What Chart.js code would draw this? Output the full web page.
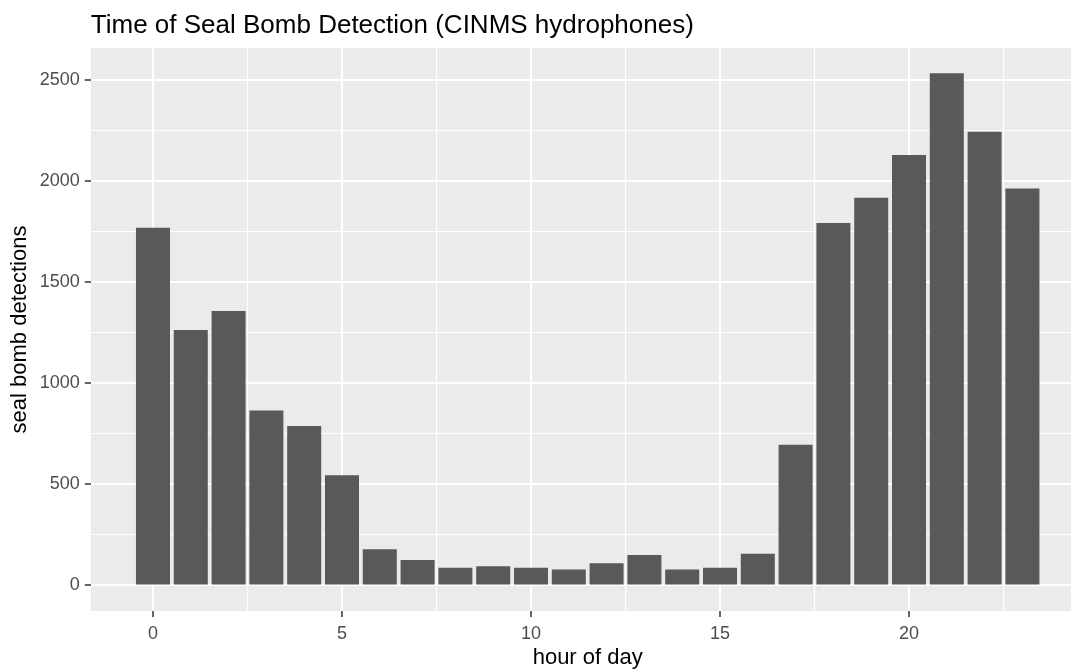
<!DOCTYPE html>
<html>
<head>
<meta charset="utf-8">
<script src="https://cdn.jsdelivr.net/npm/chart.js@4"></script>
<style>
  html, body { margin: 0; padding: 0; background: #ffffff; overflow: hidden; }
  #wrap { position: absolute; left: 0; top: 0; width: 1100px; height: 670px; }
</style>
</head>
<body>
<div id="wrap"><canvas id="sealChart" width="1100" height="670"></canvas></div>
<script>
// Stunde des Tages und Anzahl Detektionen
const hours = [0, 1, 2, 3, 4, 5, 6, 7, 8, 9, 10, 11, 12, 13, 14, 15, 16, 17, 18, 19, 20, 21, 22, 23];
const detections = [1768, 1262, 1356, 864, 788, 545, 179, 125, 87, 95, 87, 79,
                     110, 150, 79, 87, 156, 695, 1791, 1916, 2127, 2532, 2243, 1962];
const xTicks = [0, 2.5, 5, 7.5, 10, 12.5, 15, 17.5, 20, 22.5];
const yTicks = [0, 250, 500, 750, 1000, 1250, 1500, 1750, 2000, 2250, 2500];

const chartTitle = 'Time of Seal Bomb Detection (CINMS hydrophones)';
const fontFamily = '"Liberation Sans", Arial, sans-serif';

// grauer Panel-Hintergrund + Titel oben links
const panelPlugin = {
  id: 'panel',
  beforeDraw(chart) {
    const a = chart.chartArea;
    const ctx = chart.ctx;
    ctx.save();
    ctx.fillStyle = '#EBEBEB';
    ctx.fillRect(a.left, a.top, a.right - a.left, a.bottom - a.top);
    ctx.restore();
  },
  afterDraw(chart) {
    const ctx = chart.ctx;
    ctx.save();
    ctx.fillStyle = '#000000';
    ctx.font = '26px ' + fontFamily;
    ctx.textBaseline = 'alphabetic';
    ctx.textAlign = 'left';
    ctx.fillText(chartTitle, chart.chartArea.left, 33);
    ctx.restore();
  }
};

const points = hours.map((h, i) => ({ x: h, y: detections[i] }));

new Chart(document.getElementById('sealChart').getContext('2d'), {
  type: 'bar',
  data: {
    datasets: [{
      data: points,
      backgroundColor: '#595959',
      borderWidth: 0,
      categoryPercentage: 0.9,
      barPercentage: 1.0
    }]
  },
  options: {
    responsive: false,
    animation: false,
    layout: { padding: { left: 0, top: 48, right: 15.4, bottom: 0 } },
    plugins: {
      legend: { display: false },
      tooltip: { enabled: false }
    },
    scales: {
      x: {
        type: 'linear',
        min: -1.645,
        max: 24.645,
        offset: false,
        afterBuildTicks: function(scale) {
          scale.ticks = xTicks.map(v => ({ value: v }));
        },
        afterFit: function(scale) { scale.height = 59; },
        border: { display: false },
        grid: {
          offset: false,
          color: '#FFFFFF',
          lineWidth: ctx => (ctx.tick && ctx.tick.value % 5 === 0) ? 2 : 1.1,
          tickLength: 6,
          tickWidth: 1.5,
          tickColor: ctx => (ctx.tick && ctx.tick.value % 5 === 0) ? '#333333' : 'rgba(0,0,0,0)'
        },
        ticks: {
          padding: 6,
          color: '#4D4D4D',
          font: { family: fontFamily, size: 18 },
          maxRotation: 0,
          autoSkip: false,
          callback: v => (v % 5 === 0 ? String(v) : '')
        },
        title: {
          display: true,
          text: 'hour of day',
          color: '#000000',
          font: { family: fontFamily, size: 22 },
          padding: { top: 0, bottom: -1 }
        }
      },
      y: {
        type: 'linear',
        min: -126.5,
        max: 2656.5,
        afterBuildTicks: function(scale) {
          scale.ticks = yTicks.map(v => ({ value: v }));
        },
        afterFit: function(scale) { scale.width = 90.8; },
        border: { display: false },
        grid: {
          color: '#FFFFFF',
          lineWidth: ctx => (ctx.tick && ctx.tick.value % 500 === 0) ? 2 : 1.1,
          tickLength: 6,
          tickWidth: 1.5,
          tickColor: ctx => (ctx.tick && ctx.tick.value % 500 === 0) ? '#333333' : 'rgba(0,0,0,0)'
        },
        ticks: {
          padding: 5,
          color: '#4D4D4D',
          font: { family: fontFamily, size: 18 },
          autoSkip: false,
          callback: v => (v % 500 === 0 ? String(v) : '')
        },
        title: {
          display: true,
          text: 'seal bomb detections',
          color: '#000000',
          font: { family: fontFamily, size: 22 },
          padding: { top: 7, bottom: 0 }
        }
      }
    }
  },
  plugins: [panelPlugin]
});
</script>
</body>
</html>
